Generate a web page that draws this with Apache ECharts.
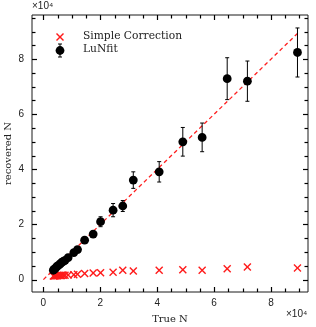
<!DOCTYPE html>
<html>
<head>
<meta charset="utf-8">
<script src="https://cdn.jsdelivr.net/npm/echarts@6/dist/echarts.min.js"></script>
<style>
html,body{margin:0;padding:0;background:#fff;}
#chart{width:316px;height:327px;}
</style>
</head>
<body>
<div id="chart"></div>
<script>
// ---- data (values in units of N) ----
const trueN = [3500, 3800, 4200, 4600, 5000, 5500, 6000, 6400, 7000, 7600, 8700, 10700, 12000,
               14500, 17500, 20100, 24500, 27900, 31600,
               40700, 49000, 55800, 64600, 71700, 89300];
const lunfitN = [3400, 3700, 4100, 4600, 5000, 5300, 5800, 6200, 6600, 7000, 8000, 9800, 10900,
                 14300, 16500, 21000, 25200, 26700, 36100,
                 39100, 50000, 51600, 72900, 72000, 82400];
const lunfitErr = [200, 200, 200, 250, 250, 300, 300, 300, 300, 350, 400, 500, 600,
                   600, 800, 1800, 2400, 2000, 3000,
                   3700, 5200, 5200, 7600, 7300, 8900];
const simpleN = [1300, 1300, 1400, 1400, 1400, 1500, 1500, 1500, 1600, 1600, 1700, 1800, 1900,
                 2200, 2400, 2500, 2700, 3400, 3100,
                 3400, 3600, 3400, 3900, 4600, 4200];
// tick values (labels shown in units of 10^4)
const xMajorTicks = [0, 20000, 40000, 60000, 80000];
const yMajorTicks = [0, 20000, 40000, 60000, 80000];
const xTickVals = [0,5000,10000,15000,20000,25000,30000,35000,40000,45000,50000,55000,60000,65000,70000,75000,80000,85000,90000];
const yTickVals = [0,5000,10000,15000,20000,25000,30000,35000,40000,45000,50000,55000,60000,65000,70000,75000,80000,85000,90000,95000];
const legendNames = ['Simple Correction', 'LuNfit'];
const xTitle = 'True N';
const yTitle = 'recovered N';
const scaleLabel = '×10⁴';

const maxTrue = Math.max.apply(null, trueN);
const oneToOne = [[0, 0], [maxTrue, maxTrue]];
const lunfitData = trueN.map((x, i) => [x, lunfitN[i], lunfitErr[i]]);
const simpleData = trueN.map((x, i) => [x, simpleN[i]]);

// ---- layout ----
const W = 316, H = 327;
const GL = 32, GR = 8, GT = 15, GB = 35;
const X_MIN = -4000, X_MAX = 93000, Y_MIN = -4500, Y_MAX = 96000;
const kx = (W - GL - GR) / (X_MAX - X_MIN);
const ky = (H - GT - GB) / (Y_MAX - Y_MIN);
const px = v => GL + (v - X_MIN) * kx;
const py = v => (H - GB) - (v - Y_MIN) * ky;
const xLabMax = xMajorTicks[xMajorTicks.length - 1], yLabMax = yMajorTicks[yMajorTicks.length - 1];
const labStep = xMajorTicks[1] - xMajorTicks[0];

const LINE_C = '#1a1a1a';
const SANS = 'Liberation Sans';
const SERIF = 'DejaVu Serif';

const gbase = {outerBoundsMode: 'none', containLabel: false};
const grids = [
  Object.assign({left: GL, right: GR, top: GT, bottom: GB, show: true, borderColor: LINE_C, borderWidth: 1, backgroundColor: 'transparent'}, gbase),
  Object.assign({left: px(0), right: W - px(xLabMax), top: GT, bottom: GB}, gbase),
  Object.assign({left: GL, right: GR, top: py(yLabMax), bottom: H - py(0)}, gbase)
];

const hidden = (idx) => ({type: 'value', gridIndex: idx, show: false, min: 0, max: 1});
function labAx(idx, pos, max, margin) {
  return {
    type: 'value', gridIndex: idx, position: pos, min: 0, max: max, interval: labStep,
    axisLine: {show: false}, axisTick: {show: false},
    axisLabel: {show: true, formatter: v => String(v / 10000), color: '#222',
                fontFamily: SANS, fontSize: 10, margin: margin},
    splitLine: {show: false}
  };
}

function renderCross(params, api) {
  const p = api.coord([api.value(0), api.value(1)]);
  const h = 3.5;
  const st = {stroke: '#ff1a1a', lineWidth: 1.4};
  return {type: 'group', children: [
    {type: 'line', shape: {x1: p[0]-h, y1: p[1]-h, x2: p[0]+h, y2: p[1]+h}, style: st},
    {type: 'line', shape: {x1: p[0]-h, y1: p[1]+h, x2: p[0]+h, y2: p[1]-h}, style: st}
  ]};
}
function renderErr(params, api) {
  const x = api.value(0), y = api.value(1), e = api.value(2);
  const p = api.coord([x, y]);
  const t = api.coord([x, y + e]);
  const b = api.coord([x, y - e]);
  const cw = 2;
  const st = {stroke: '#000', lineWidth: 1};
  return {type: 'group', children: [
    {type: 'line', shape: {x1: p[0], y1: t[1], x2: p[0], y2: b[1]}, style: st},
    {type: 'line', shape: {x1: p[0]-cw, y1: t[1], x2: p[0]+cw, y2: t[1]}, style: st},
    {type: 'line', shape: {x1: p[0]-cw, y1: b[1], x2: p[0]+cw, y2: b[1]}, style: st},
    {type: 'circle', shape: {cx: p[0], cy: p[1], r: 4.4}, style: {fill: '#000'}}
  ]};
}
const tickStyle = {stroke: '#000', lineWidth: 1.2};
function renderXTick(params, api) {
  const v = api.value(0);
  const cs = params.coordSys;
  const x = Math.round(api.coord([v, 0])[0]) + 0.5;
  const len = xMajorTicks.indexOf(v) >= 0 ? 5 : 3.5;
  const yb = cs.y + cs.height, yt = cs.y;
  return {type: 'group', children: [
    {type: 'line', shape: {x1: x, y1: yb, x2: x, y2: yb - len}, style: tickStyle},
    {type: 'line', shape: {x1: x, y1: yt, x2: x, y2: yt + len}, style: tickStyle}
  ]};
}
function renderYTick(params, api) {
  const v = api.value(1);
  const cs = params.coordSys;
  const y = Math.round(api.coord([0, v])[1]) + 0.5;
  const len = yMajorTicks.indexOf(v) >= 0 ? 5 : 3.5;
  const xl = cs.x, xr = cs.x + cs.width;
  return {type: 'group', children: [
    {type: 'line', shape: {x1: xl, y1: y, x2: xl + len, y2: y}, style: tickStyle},
    {type: 'line', shape: {x1: xr, y1: y, x2: xr - len, y2: y}, style: tickStyle}
  ]};
}

const chart = echarts.init(document.getElementById('chart'), null, {renderer: 'canvas'});
chart.setOption({
  animation: false,
  backgroundColor: '#fff',
  grid: grids,
  xAxis: [
    {type: 'value', gridIndex: 0, min: X_MIN, max: X_MAX, axisLine: {show: false}, axisTick: {show: false},
     axisLabel: {show: false}, splitLine: {show: false},
     name: xTitle, nameLocation: 'middle', nameGap: 22,
     nameTextStyle: {fontFamily: SERIF, fontSize: 10, color: '#222'}},
    labAx(1, 'bottom', xLabMax, 6),
    hidden(2)
  ],
  yAxis: [
    {type: 'value', gridIndex: 0, min: Y_MIN, max: Y_MAX, axisLine: {show: false}, axisTick: {show: false},
     axisLabel: {show: false}, splitLine: {show: false},
     name: yTitle, nameLocation: 'middle', nameGap: 19,
     nameTextStyle: {fontFamily: SERIF, fontSize: 10, color: '#222'}},
    hidden(1),
    labAx(2, 'left', yLabMax, 8)
  ],
  series: [
    {type: 'custom', name: 'xticks', data: xTickVals.map(v => [v, 0]), xAxisIndex: 0, yAxisIndex: 0,
     renderItem: renderXTick, z: 5, silent: true, clip: false},
    {type: 'custom', name: 'yticks', data: yTickVals.map(v => [0, v]), xAxisIndex: 0, yAxisIndex: 0,
     renderItem: renderYTick, z: 5, silent: true, clip: false},
    {type: 'line', name: '1:1', data: oneToOne, xAxisIndex: 0, yAxisIndex: 0, symbol: 'none',
     lineStyle: {color: '#ff2020', width: 1.3, type: [4, 3]}, z: 1},
    {type: 'custom', name: legendNames[0], data: simpleData, xAxisIndex: 0, yAxisIndex: 0,
     renderItem: renderCross, z: 2},
    {type: 'custom', name: legendNames[1], data: lunfitData, xAxisIndex: 0, yAxisIndex: 0,
     renderItem: renderErr, z: 3}
  ],
  graphic: [
    {type: 'text', left: 32, top: 1, style: {text: scaleLabel, font: '10px "' + SANS + '"', fill: '#222'}},
    {type: 'text', left: 286, top: 309, style: {text: scaleLabel, font: '10px "' + SANS + '"', fill: '#222'}},
    // legend
    {type: 'line', shape: {x1: 56.5, y1: 33.5, x2: 63.5, y2: 40.5}, style: {stroke: '#ff1a1a', lineWidth: 1.4}},
    {type: 'line', shape: {x1: 56.5, y1: 40.5, x2: 63.5, y2: 33.5}, style: {stroke: '#ff1a1a', lineWidth: 1.4}},
    {type: 'line', shape: {x1: 60, y1: 44, x2: 60, y2: 57}, style: {stroke: '#000', lineWidth: 1}},
    {type: 'line', shape: {x1: 58, y1: 44, x2: 62, y2: 44}, style: {stroke: '#000', lineWidth: 1}},
    {type: 'line', shape: {x1: 58, y1: 57, x2: 62, y2: 57}, style: {stroke: '#000', lineWidth: 1}},
    {type: 'circle', shape: {cx: 60, cy: 50.5, r: 4.4}, style: {fill: '#000'}},
    {type: 'text', left: 83, top: 31, style: {text: legendNames[0], font: '10.7px "' + SERIF + '"', fill: '#222'}},
    {type: 'text', left: 83, top: 44, style: {text: legendNames[1], font: '10.7px "' + SERIF + '"', fill: '#222'}}
  ]
});
</script>
</body>
</html>
